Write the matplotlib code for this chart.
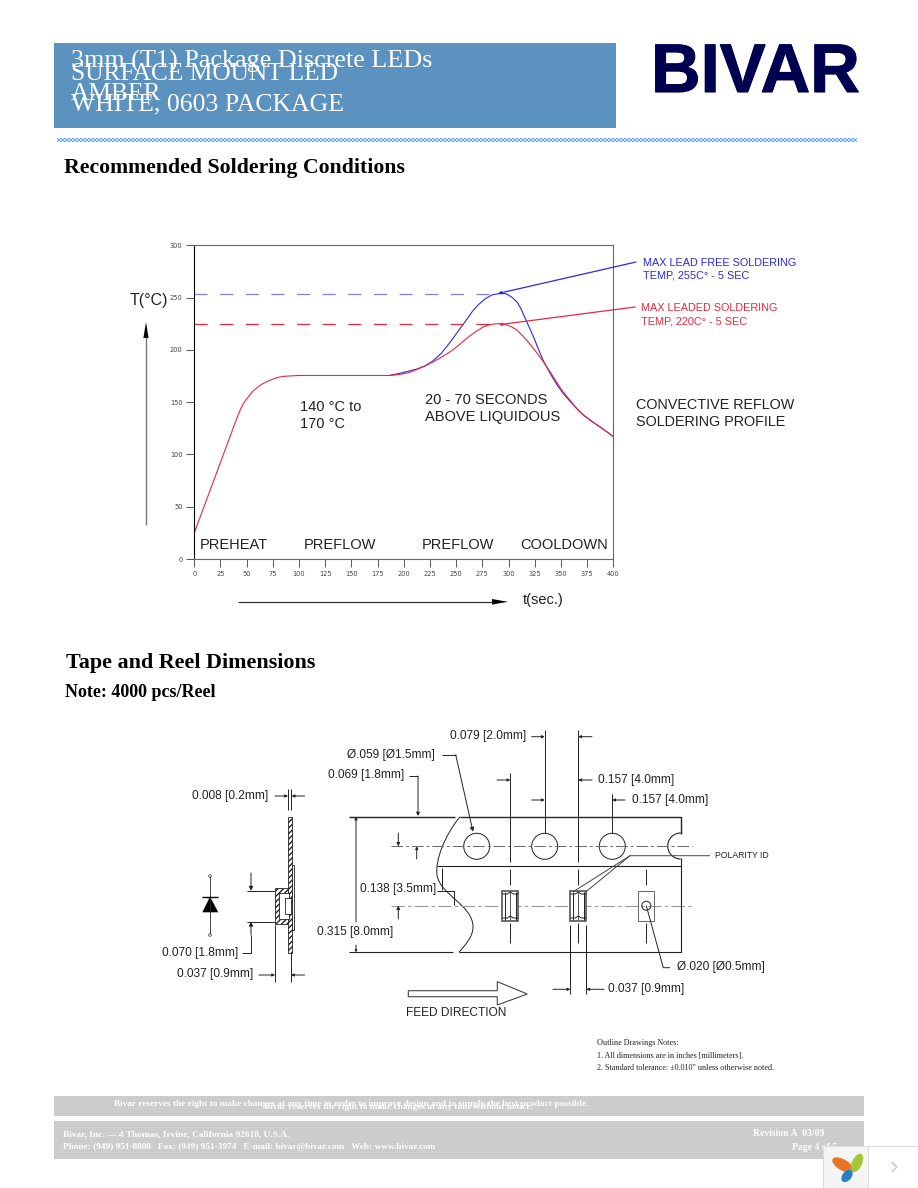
import numpy as np
import matplotlib
matplotlib.use('Agg')
import matplotlib.pyplot as plt
from matplotlib.patches import Rectangle, Circle, Ellipse, Polygon, PathPatch, Arc
from matplotlib.path import Path
import matplotlib.patheffects as pe

# Values
ramp_t = [0, 10, 20, 30, 40, 44, 47, 50, 55, 60, 65, 70, 75, 80, 85, 90, 100, 186]
ramp_c = [25, 52, 79, 106, 133, 143, 149, 153, 159.5, 164, 167.5, 170, 172, 173.7, 174.6, 175, 175.5, 175.5]
leaded_t = [186, 196, 204, 212, 220, 228, 236, 244, 252, 260, 268, 276, 282, 288, 293, 298, 303, 308, 314,
            320, 326, 333, 340, 346, 352, 359, 365, 371, 379, 387, 394, 400]
leaded_c = [175.5, 176.5, 178, 181, 184.5, 188.5, 193, 198, 204, 211, 217, 222, 224, 225, 225, 224, 222, 219, 213,
            206, 198.5, 189, 178.5, 169, 160, 151.5, 144, 138, 132, 126.5, 121.5, 117]
free_t = [186, 196, 204, 212, 220, 228, 236, 244, 252, 260, 266, 272, 278, 284, 289, 294, 298, 303, 308, 312,
          316, 320, 324, 328, 333, 340, 346, 352, 359, 365, 371, 379, 387, 394, 400]
free_c = [175.5, 177.5, 179.5, 181.5, 184.5, 189.5, 197, 207, 218, 229, 237.5, 244, 249, 252.5, 253.5, 254, 253.5,
          250.5, 246, 239, 230, 221, 212, 202, 190, 177, 167, 158.5, 150.5, 144, 138, 132, 126.5, 121.5, 117]
limit_free = 253
limit_leaded = 225
limit_end = 290
x_ticks = list(range(0, 401, 25))
y_ticks = list(range(0, 301, 50))

RED = '#e8283c'
BLUE = '#2a2ae0'
INK = '#222222'
SANS = 'Liberation Sans'
SERIF = 'Liberation Serif'

fig = plt.figure(figsize=(9.18, 11.88), dpi=100, facecolor='white')

# Chart axes
ax = fig.add_axes([194.3 / 918, 1 - 559 / 1188, 419 / 918, 313.7 / 1188])
ax.plot(free_t, free_c, color=BLUE, lw=0.8)
ax.plot(ramp_t + leaded_t, ramp_c + leaded_c, color=RED, lw=0.8)
ax.plot([0, limit_end], [limit_free, limit_free], color='#8080e8', lw=0.9, dashes=(10.5, 10))
ax.plot([0, limit_end], [limit_leaded, limit_leaded], color=RED, lw=0.9, dashes=(10.5, 10))
ax.set_xlim(0, 400)
ax.set_ylim(0, 300)
ax.set_xticks(x_ticks)
ax.set_yticks(y_ticks)
ax.tick_params(labelsize=4.8, labelcolor='#444444', color='#555555', length=6, width=0.7, pad=2.5)
for name, spine in ax.spines.items():
    spine.set_color('black' if name == 'left' else '#666666')
    spine.set_linewidth(0.8)

# Page overlay in pixel coordinates
page = fig.add_axes([0, 0, 1, 1], facecolor='none')
page.set_xlim(0, 918)
page.set_ylim(1188, 0)
page.axis('off')


def line(xs, ys, color=INK, lw=0.7, **kw):
    page.plot(xs, ys, color=color, lw=lw, solid_capstyle='butt', **kw)


def arrow(x0, y0, x1, y1, color=INK, size=6, lw=0.7):
    page.annotate('', xy=(x1, y1), xytext=(x0, y0),
                  arrowprops=dict(arrowstyle='-|>', color=color, lw=lw, shrinkA=0, shrinkB=0,
                                  mutation_scale=size))


def label(x, y, s, size=8.6, color='#222222', family=SANS, **kw):
    kw.setdefault('va', 'center')
    page.text(x, y, s, fontsize=size, color=color, family=family, **kw)


# Header
page.add_patch(Rectangle((54, 43), 562, 85, fc='#5b92bf', ec='none'))
label(71, 68, '3mm (T1) Package Discrete LEDs', size=18.8, color='white', family=SERIF, va='baseline')
label(71, 79.5, 'SURFACE MOUNT LED', size=18.3, color='white', family=SERIF, va='baseline')
label(71, 100, 'AMBER', size=18.3, color='white', family=SERIF, va='baseline')
label(71, 110, 'WHITE, 0603 PACKAGE', size=18.5, color='white', family=SERIF, va='baseline')
page.text(651, 92, 'BIVAR', fontsize=49.5, color='#000050', family=SANS, weight='bold', va='baseline',
          path_effects=[pe.withStroke(linewidth=0.8, foreground='#000050')])

zig_x = np.arange(57, 860, 4)
zig_y = np.where(np.arange(len(zig_x)) % 2 == 0, 1.8, -1.8)
line(zig_x, 140 + zig_y, color='#6fa8f5', lw=0.8)
line(zig_x, 140 - zig_y, color='#6fa8f5', lw=0.8)

label(64, 173, 'Recommended Soldering Conditions', size=15.7, color='black', family=SERIF, weight='bold', va='baseline')
label(66, 668, 'Tape and Reel Dimensions', size=15.8, color='black', family=SERIF, weight='bold', va='baseline')
label(65, 697, 'Note: 4000 pcs/Reel', size=13, color='black', family=SERIF, weight='bold', va='baseline')

# Chart annotations
label(130, 301, 'T(°C)', size=11.5)
line([146, 146], [525, 337], color='#777777', lw=1.0)
page.add_patch(Polygon([(143.4, 338), (148.6, 338), (146, 322)], fc='black', ec='none'))
line([238, 493], [601.7, 601.7], color='#333333', lw=0.9)
page.add_patch(Polygon([(492, 599), (492, 604.6), (508, 601.8)], fc='black', ec='none'))
label(523, 600, 't(sec.)', size=10.5)
label(300, 407, '140 °C to', size=10.5)
label(300, 424.5, '170 °C', size=10.5)
label(425, 400, '20 - 70 SECONDS', size=10.5)
label(425, 417, 'ABOVE LIQUIDOUS', size=10.5)
label(200, 545, 'PREHEAT', size=10.5)
label(304, 545, 'PREFLOW', size=10.5)
label(422, 545, 'PREFLOW', size=10.5)
label(520, 545, 'COOLDOWN', size=10.5)
label(636, 405, 'CONVECTIVE REFLOW', size=10.4)
label(636, 422.5, 'SOLDERING PROFILE', size=10.4)
label(643, 263, 'MAX LEAD FREE SOLDERING', size=7.8, color=BLUE)
label(643, 276, 'TEMP, 255C° - 5 SEC', size=7.8, color=BLUE)
label(641, 308, 'MAX LEADED SOLDERING', size=7.8, color=RED)
label(641, 321, 'TEMP, 220C° - 5 SEC', size=7.8, color=RED)
arrow(636, 262, 498, 293.5, color=BLUE, size=4, lw=0.9)
arrow(635, 307, 499, 324.7, color=RED, size=4, lw=0.9)

# Side view of the tape
for rect, hatch in [((288.3, 816.5, 3.6, 136.2), '//////'), ((291.9, 865, 2.4, 65), None),
                    ((275.3, 887.7, 13, 36.6), '//////')]:
    page.add_patch(Rectangle(rect[:2], rect[2], rect[3], fc='white', ec=INK, lw=0.6, hatch=hatch))
page.add_patch(Rectangle((279, 892.7), 10, 26.3, fc='white', ec=INK, lw=0.6))
page.add_patch(Rectangle((285, 897.7), 5.7, 16.3, fc='white', ec=INK, lw=0.6))

# Diode symbol
line([210, 210], [876, 935], lw=0.6)
line([202.3, 218.3], [896.7, 896.7], color='black', lw=1)
page.add_patch(Polygon([(202.3, 912.3), (218.3, 912.3), (210, 896.7)], fc='black', ec='none'))
page.add_patch(Circle((210, 876), 1.3, fc='white', ec=INK, lw=0.5, zorder=3))
page.add_patch(Circle((210, 935), 1.3, fc='white', ec=INK, lw=0.5, zorder=3))

# Side view dimensions
label(192, 795.7, '0.008 [0.2mm]')
arrow(275, 796, 288, 796, size=4)
arrow(304.7, 796, 291.7, 796, size=4)
line([288.3, 288.3], [789, 810])
line([291.3, 291.3], [789, 810])
line([247, 275], [890.7, 890.7])
line([247, 275], [921.7, 921.7])
arrow(251, 873, 251, 890.7, size=6)
line([241.7, 251, 251], [953.3, 953.3, 935])
arrow(251, 935, 251, 921.7, size=6)
label(162, 953, '0.070 [1.8mm]')
label(177, 974, '0.037 [0.9mm]')
arrow(259, 975, 275, 975, size=4)
arrow(304.7, 975, 291, 975, size=4)
line([275.3, 275.3], [925, 981.7])
line([291, 291], [953, 981.7])

# Tape outline
tape = Path([(460, 816.7), (445, 835), (435, 860), (437, 875), (440, 895), (473, 905), (473, 927),
             (473, 937), (465, 945), (459, 952.3)],
            [Path.MOVETO] + [Path.CURVE4] * 9)
page.add_patch(PathPatch(tape, fc='none', ec=INK, lw=0.7))
line([349, 455], [816.7, 816.7], lw=1)
line([460, 680.7, 680.7], [816.7, 816.7, 834], lw=1)
line([349, 453], [952.3, 952.3], lw=0.8)
line([459, 680.7, 680.7], [952.3, 952.3, 858], lw=0.8)
line([437, 680.7], [865.7, 865.7], lw=0.8)
page.add_patch(Arc((680.7, 846), 26, 26, theta1=90, theta2=270, ec=INK, lw=0.8))
for cx in [476.7, 544.7, 612.3]:
    page.add_patch(Circle((cx, 846.3), 13, fc='white', ec=INK, lw=0.7, zorder=2))
page.plot([391, 691.7], [846.3, 846.3], color='#666666', lw=0.7, dashes=(12, 3, 3, 3), zorder=3)
page.plot([391, 691.7], [905.7, 905.7], color='#999999', lw=0.8, dashes=(12, 3, 3, 3), zorder=1)

# Pocket centre lines and parts
line([510.3, 510.3], [773, 862], zorder=3)
line([578.3, 578.3], [730, 862], zorder=3)
line([544.7, 544.7], [730, 833], zorder=3)
line([612.3, 612.3], [794, 833], zorder=3)
for cx in [510.3, 578.3, 646.3]:
    line([cx, cx], [869, 885], lw=0.7)
    line([cx, cx], [923, 943], lw=0.7)
for cx in [510.3, 578.3]:
    page.add_patch(Rectangle((cx - 8, 890.7), 16, 30.6, fc='white', ec='#555555', lw=1.2, zorder=2))
    line([cx - 5.5, cx - 5.5], [892, 920], zorder=3)
    line([cx + 5.5, cx + 5.5], [892, 920], zorder=3)
    line([cx, cx], [892, 920], color='#555555', zorder=3)
    line([cx - 8, cx - 3, cx, cx + 3, cx + 8], [894, 894, 892, 894, 894], zorder=3)
    line([cx - 8, cx - 3, cx, cx + 3, cx + 8], [918, 918, 916, 918, 918], zorder=3)
page.add_patch(Rectangle((638.3, 890.7), 16, 30.6, fc='none', ec='#666666', lw=0.7))
page.add_patch(Circle((646.3, 905.7), 4.5, fc='none', ec=INK, lw=0.7))

# Tape dimensions
label(347, 755, 'Ø.059 [Ø1.5mm]')
line([441.7, 455.7], [754.7, 754.7])
arrow(455.7, 754.7, 473, 831.7, size=6)
label(328, 775, '0.069 [1.8mm]')
line([409, 418], [776, 776])
arrow(418, 776, 418, 816, size=5)
label(449.5, 736.5, '0.079 [2.0mm]')
arrow(531.7, 736.7, 544.7, 736.7, size=4)
arrow(592, 736.7, 578.3, 736.7, size=4)
arrow(497, 780, 510.3, 780, size=4)
arrow(592, 780, 578.3, 780, size=4)
label(597.7, 779.5, '0.157 [4.0mm]')
arrow(531.7, 800, 544.7, 800, size=4)
arrow(625, 800, 612.3, 800, size=4)
label(631.7, 799.5, '0.157 [4.0mm]')
arrow(356, 922, 356, 816.7, size=4)
arrow(356, 945, 356, 952.3, size=3)
label(317, 932, '0.315 [8.0mm]')
label(360, 889, '0.138 [3.5mm]')
line([437, 454, 454], [890.7, 890.7, 905])
line([442.3, 442.3], [868, 890])
arrow(398.3, 833, 398.3, 846.3, size=5)
arrow(416.7, 859, 416.7, 846.3, size=4)
arrow(398.3, 919, 398.3, 905.7, size=5)

# Polarity and hole callouts
line([710, 630, 573.3], [855.7, 855.7, 891.7], color='#444444', zorder=3)
line([630, 586], [855.7, 891.7], color='#444444', zorder=3)
label(715, 855.7, 'POLARITY ID', size=6.2)
line([646.3, 663.3, 670], [905.7, 967.7, 967.7])
label(676.7, 967, 'Ø.020 [Ø0.5mm]')
line([570.3, 570.3], [925, 994])
line([586.3, 586.3], [925, 994])
arrow(553, 989.3, 570.3, 989.3, size=4)
arrow(604, 989.3, 586.3, 989.3, size=4)
label(607.7, 989, '0.037 [0.9mm]')

# Feed direction arrow
page.add_patch(Polygon([(408.3, 990.7), (497.3, 990.7), (497.3, 981.7), (527.3, 994), (497.3, 1005),
                        (497.3, 996.7), (408.3, 996.7)], fc='white', ec='#444444', lw=0.8))
label(406, 1013, 'FEED DIRECTION', size=8.6)

# Drawing notes
label(597, 1043, 'Outline Drawings Notes:', size=5.9, family=SERIF)
label(597, 1056, '1. All dimensions are in inches [millimeters].', size=5.9, family=SERIF)
label(597, 1068, '2. Standard tolerance: ±0.010" unless otherwise noted.', size=5.9, family=SERIF)

# Footer
page.add_patch(Rectangle((54, 1096), 810, 20, fc='#cccccc', ec='none'))
page.add_patch(Rectangle((54, 1121), 810, 38, fc='#cccccc', ec='none'))
for x, y, s, size in [(114, 1104, 'Bivar reserves the right to make changes at any time in order to improve design and to supply the best product possible.', 6.68),
                      (264, 1107, 'Bivar reserves the right to make changes at any time without notice.', 6.65),
                      (63, 1134, 'Bivar, Inc. — 4 Thomas, Irvine, California 92618, U.S.A.', 6.75),
                      (63, 1147, 'Phone: (949) 951-8808   Fax: (949) 951-3974   E-mail: bivar@bivar.com   Web: www.bivar.com', 6.7),
                      (753, 1134, 'Revision A  03/09', 7),
                      (792, 1147, 'Page 4 of 5', 7)]:
    label(x, y, s, size=size, color='white', family=SERIF, weight='bold')

# Viewer widget in the corner
page.add_patch(Rectangle((823, 1146), 94.5, 42, fc='#f5f5f5', ec='#dddddd', lw=0.8, zorder=5))
page.add_patch(Rectangle((868, 1146), 49.5, 42, fc='white', ec='#dddddd', lw=0.8, zorder=5))
page.add_patch(Ellipse((843, 1165), 24, 11, angle=30, fc='#e8742a', ec='none', zorder=6))
page.add_patch(Ellipse((857, 1163), 10, 20, angle=25, fc='#a4c639', ec='none', zorder=6))
page.add_patch(Ellipse((847, 1176), 9, 14, angle=40, fc='#2a7fc9', ec='none', zorder=6))
line([891.7, 896.7, 891.7], [1162, 1167, 1172], color='#bbbbbb', lw=0.9, zorder=6)

fig.savefig('out.png', dpi=100, facecolor='white')
